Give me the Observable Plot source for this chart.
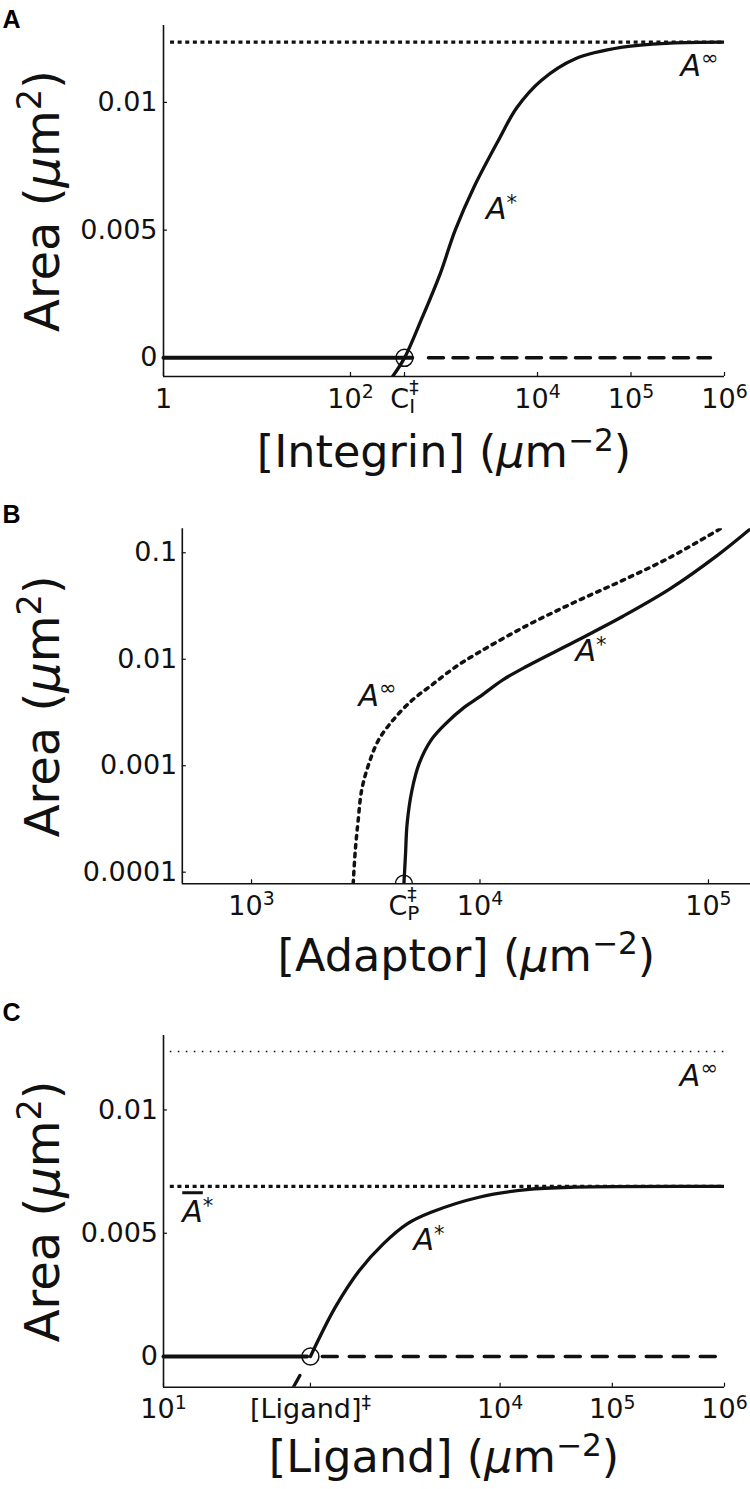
<!DOCTYPE html>
<html><head><meta charset="utf-8">
<script src="https://cdn.jsdelivr.net/npm/d3@7"></script>
<script src="https://cdn.jsdelivr.net/npm/@observablehq/plot@0.6"></script>
<style>
body{margin:0;background:#fff;}
#chart{width:750px;}
#chart svg{display:block;}
</style></head><body><div id="chart"></div>
<script>
// ---------- Panel A : Integrin ----------
const aXTicks = [1, 1e2, 378, 1e4, 1e5, 1e6];
const aXTickLabels = ["1", "10^{2}", "C_{I}^{‡}", "10^{4}", "10^{5}", "10^{6}"];
const aYTicks = [0, 0.005, 0.01];
const aYTickLabels = ["0", "0.005", "0.01"];
const aCrit = 378;
const aAinf = 0.01236;
const aStarConc = [282, 378, 562, 912, 1318, 2089, 3802, 6026, 10965, 25119, 81283, 263027, 1e6];
const aStarArea = [-0.00073, 0, 0.00143, 0.0033, 0.005, 0.00668, 0.0085, 0.0098, 0.01086, 0.0117, 0.01216, 0.01232, 0.01236];
const aZeroSolidConc = [1, 457];
const aZeroDashConc = [682, 708000];
const aLabelText = ["A^{∞}", "A^{*}"];
const aLabelConc = [338000, 2818];
const aLabelArea = [0.011045, 0.005438];

// ---------- Panel B : Adaptor ----------
const bXTicks = [1e3, 4645, 1e4, 1e5];
const bXTickLabels = ["10^{3}", "C_{P}^{‡}", "10^{4}", "10^{5}"];
const bYTicks = [1e-4, 1e-3, 1e-2, 1e-1];
const bYTickLabels = ["0.0001", "0.001", "0.01", "0.1"];
const bCrit = 4645;
const bInfConc = [2786, 2831, 2871, 2924, 3034, 3266, 3597, 4150, 5012, 6109, 7780, 9908, 16032, 25942, 42073, 68077, 112720];
const bInfArea = [7.78e-5, 1.38e-4, 2.0e-4, 2.95e-4, 5.89e-4, 1.05e-3, 1.74e-3, 2.66e-3, 4.07e-3, 5.66e-3, 8.41e-3, 1.164e-2, 2.07e-2, 3.43e-2, 5.50e-2, 9.08e-2, 0.168];
const bStarConc = [4645, 4721, 4797, 5035, 5420, 6109, 7063, 8551, 9908, 12589, 16032, 25942, 42073, 68077, 110154, 152757];
const bStarArea = [7.78e-5, 1.48e-4, 2.85e-4, 5.85e-4, 1.05e-3, 1.74e-3, 2.47e-3, 3.55e-3, 4.40e-3, 6.40e-3, 8.60e-3, 1.46e-2, 2.52e-2, 4.60e-2, 9.55e-2, 0.168];
const bLabelText = ["A^{∞}", "A^{*}"];
const bLabelConc = [2938, 26182];
const bLabelArea = [3.67e-3, 9.73e-3];

// ---------- Panel C : Ligand ----------
const cXTicks = [10, 204, 1e4, 1e5, 1e6];
const cXTickLabels = ["10^{1}", "[Ligand]^{‡}", "10^{4}", "10^{5}", "10^{6}"];
const cYTicks = [0, 0.005, 0.01];
const cYTickLabels = ["0", "0.005", "0.01"];
const cCrit = 204;
const cAinf = 0.01237;
const cAbar = 0.0069;
const cStarConc = [204, 340, 557, 910, 1486, 2427, 6486, 17298, 46238, 1e6];
const cStarArea = [0, 0.0020, 0.00349, 0.00457, 0.00538, 0.00585, 0.00646, 0.00677, 0.00687, 0.0069];
const cStarBelowConc = [143.5, 204];
const cStarBelowArea = [-0.00125, 0];
const cZeroSolidConc = [10, 190.5];
const cZeroDashConc = [260, 977000];
const cLabelText = ["A^{∞}", "={A}^{*}", "A^{*}"];
const cLabelConc = [400000, 14.7, 1690];
const cLabelArea = [0.01099, 0.005446, 0.0043];

const INK = "#111";
const FONT = "DejaVu Sans";
const pts = (xs, ys) => xs.map((x, i) => ({x, y: ys[i]}));
const labels = (t, xs, ys) => t.map((s, i) => ({t: s, x: xs[i], y: ys[i]}));

const measureCtx = document.createElement("canvas").getContext("2d");
function textWidth(str, size) {
  measureCtx.font = `${size}px "${FONT}"`;
  return measureCtx.measureText(str).width;
}

function parseMarkup(s) {
  const out = []; let i = 0, buf = "";
  const map = {"^": "sup", "_": "sub", "~": "it", "=": "over"};
  while (i < s.length) {
    const c = s[i];
    if (map[c] && s[i + 1] === "{") {
      if (buf) { out.push({type: "plain", text: buf}); buf = ""; }
      const j = s.indexOf("}", i + 2);
      out.push({type: map[c], text: s.slice(i + 2, j)});
      i = j + 1;
    } else { buf += c; i++; }
  }
  if (buf) out.push({type: "plain", text: buf});
  return out;
}

function richify(svg) {
  const ns = "http://www.w3.org/2000/svg";
  for (const t of svg.querySelectorAll("text")) {
    const s = t.textContent;
    if (!/[\^_~=]\{/.test(s)) continue;
    const fs = parseFloat(getComputedStyle(t).fontSize) || 27;
    const toks = parseMarkup(s);
    while (t.firstChild) t.removeChild(t.firstChild);
    let shift = 0, prev = null;
    for (const tok of toks) {
      const ts = document.createElementNS(ns, "tspan");
      let target = 0;
      if (tok.type === "sup") {
        let k = tok.text === "*" ? 0.3 : 0.36;
        if (prev && prev.type === "sub") k = 0.5;
        target = -k * fs;
        ts.setAttribute("font-size", (0.7 * fs).toFixed(2));
        if (prev && prev.type === "sub") {
          const w = textWidth(prev.text, 0.74 * fs);
          if (isFinite(w) && w > 0 && w < fs) ts.setAttribute("dx", (-w).toFixed(2));
        }
      } else if (tok.type === "sub") {
        target = 0.2 * fs;
        ts.setAttribute("font-size", (0.74 * fs).toFixed(2));
      }
      const d = target - shift;
      if (Math.abs(d) > 1e-6) ts.setAttribute("dy", d.toFixed(2));
      shift = target;
      if (tok.type === "it") ts.setAttribute("font-style", "italic");
      if (tok.type === "over") ts.setAttribute("text-decoration", "overline");
      ts.textContent = tok.text;
      t.appendChild(ts);
      prev = tok;
    }
  }
}

function panel(cfg) {
  const {height, mt, mb, ml, mr, xType, yType, xDomain, yDomain, xTicks, xTickLabels,
         yTicks, yTickLabels, yPad, marks, xTitle, xTitleDy, letter, letterDx, letterDy} = cfg;
  const width = 750;
  const plotH = height - mt - mb, plotW = width - ml - mr;
  return Plot.plot({
    width, height, marginTop: mt, marginBottom: mb, marginLeft: ml, marginRight: mr,
    style: {fontFamily: FONT, background: "white", overflow: "visible", color: INK},
    x: {type: xType, domain: xDomain, axis: null},
    y: {type: yType, domain: yDomain, axis: null},
    marks: [
      ...marks,
      // inward ticks
      Plot.ruleX(xTicks, {stroke: INK, strokeWidth: 1.2, insetTop: plotH - 4}),
      Plot.ruleY(yTicks, {stroke: INK, strokeWidth: 1.2, insetRight: plotW - 4}),
      // spines
      Plot.ruleX([xDomain[0]], {stroke: INK, strokeWidth: 1.6}),
      Plot.ruleY([yDomain[0]], {stroke: INK, strokeWidth: 1.6}),
      // tick labels
      Plot.text(xTicks, {x: d => d, text: (d, i) => xTickLabels[i], frameAnchor: "bottom", textAnchor: "middle", lineAnchor: "top", dy: 12, fontSize: 27, fill: INK}),
      Plot.text(yTicks, {y: d => d, text: (d, i) => yTickLabels[i], frameAnchor: "left", textAnchor: "end", lineAnchor: "middle", dx: -yPad, fontSize: 27, fill: INK}),
      // axis titles
      Plot.text([xTitle], {text: d => d, frameAnchor: "bottom", textAnchor: "middle", dy: xTitleDy, lineAnchor: "bottom", fontSize: 44.5, fill: INK}),
      Plot.text(["Area (~{μ}m^{2})"], {text: d => d, frameAnchor: "left", textAnchor: "middle", rotate: -90, dx: 58 - ml, lineAnchor: "bottom", fontSize: 48, fill: INK}),
      // panel letter
      Plot.text([letter], {text: d => d, frameAnchor: "top-left", dx: letterDx, dy: letterDy, textAnchor: "start", lineAnchor: "bottom", fontSize: 25, fontWeight: "bold", fontFamily: "Liberation Sans", fill: "#000"})
    ]
  });
}

const curveLabels = (data) => Plot.text(data, {x: "x", y: "y", text: "t", textAnchor: "start", lineAnchor: "bottom", fontSize: 30, fontStyle: "italic", fill: INK});

const svgA = panel({
  height: 490, mt: 25, mb: 114, ml: 163, mr: 26,
  xType: "log", yType: "linear", xDomain: [1, 1e6], yDomain: [-0.00073, 0.01301],
  xTicks: aXTicks, xTickLabels: aXTickLabels, yTicks: aYTicks, yTickLabels: aYTickLabels, yPad: 6,
  xTitle: "[Integrin] (~{μ}m^{−2})", xTitleDy: 90.7, letter: "A", letterDx: -161, letterDy: 2,
  marks: [
    Plot.ruleY([aAinf], {x1: 1.19, x2: 1e6, stroke: INK, strokeWidth: 3.3, strokeDasharray: "4,3.6"}),
    Plot.line(pts(aZeroSolidConc, [0, 0]), {x: "x", y: "y", stroke: INK, strokeWidth: 4}),
    Plot.line(pts(aZeroDashConc, [0, 0]), {x: "x", y: "y", stroke: INK, strokeWidth: 3.5, strokeDasharray: "15,9.5"}),
    Plot.line(pts(aStarConc, aStarArea), {x: "x", y: "y", stroke: INK, strokeWidth: 3.3, curve: "catmull-rom", clip: true}),
    Plot.dot([{x: aCrit, y: 0}], {x: "x", y: "y", r: 8.5, stroke: INK, strokeWidth: 1.5, fill: "none"}),
    curveLabels(labels(aLabelText, aLabelConc, aLabelArea))
  ]
});

const svgB = panel({
  height: 500, mt: 38.3, mb: 106.7, ml: 181.8, mr: 0,
  xType: "log", yType: "log", xDomain: [Math.pow(10, 2.697), Math.pow(10, 5.184)], yDomain: [Math.pow(10, -4.109), Math.pow(10, -0.775)],
  xTicks: bXTicks, xTickLabels: bXTickLabels, yTicks: bYTicks, yTickLabels: bYTickLabels, yPad: 5,
  xTitle: "[Adaptor] (~{μ}m^{−2})", xTitleDy: 86.7, letter: "B", letterDx: -179.8, letterDy: -6.3,
  marks: [
    Plot.line(pts(bInfConc, bInfArea), {x: "x", y: "y", stroke: INK, strokeWidth: 3.5, strokeDasharray: "3.5,5.5", curve: "catmull-rom", clip: true}),
    Plot.line(pts(bStarConc, bStarArea), {x: "x", y: "y", stroke: INK, strokeWidth: 3.3, curve: "catmull-rom", clip: true}),
    Plot.dot([{x: bCrit, y: Math.pow(10, -4.109)}], {x: "x", y: "y", r: 8.5, stroke: INK, strokeWidth: 1.5, fill: "none", clip: true}),
    curveLabels(labels(bLabelText, bLabelConc, bLabelArea))
  ]
});

const svgC = panel({
  height: 499, mt: 45, mb: 102.3, ml: 163, mr: 26,
  xType: "log", yType: "linear", xDomain: [10, 1e6], yDomain: [-0.001245, 0.01302],
  xTicks: cXTicks, xTickLabels: cXTickLabels, yTicks: cYTicks, yTickLabels: cYTickLabels, yPad: 5.5,
  xTitle: "[Ligand] (~{μ}m^{−2})", xTitleDy: 85, letter: "C", letterDx: -161, letterDy: -15,
  marks: [
    Plot.ruleY([cAinf], {x1: 11.5, x2: 1e6, stroke: INK, strokeWidth: 1.6, strokeDasharray: "1.6,6.4"}),
    Plot.ruleY([cAbar], {x1: 11.5, x2: 1e6, stroke: INK, strokeWidth: 3.3, strokeDasharray: "4,3.6"}),
    Plot.line(pts(cZeroSolidConc, [0, 0]), {x: "x", y: "y", stroke: INK, strokeWidth: 4}),
    Plot.line(pts(cZeroDashConc, [0, 0]), {x: "x", y: "y", stroke: INK, strokeWidth: 3.5, strokeDasharray: "15,12"}),
    Plot.line(pts(cStarBelowConc, cStarBelowArea), {x: "x", y: "y", stroke: INK, strokeWidth: 3.3, strokeDasharray: "13.5,40", clip: true}),
    Plot.line(pts(cStarConc, cStarArea), {x: "x", y: "y", stroke: INK, strokeWidth: 3.3, curve: "catmull-rom", clip: true}),
    Plot.dot([{x: cCrit, y: 0}], {x: "x", y: "y", r: 8.5, stroke: INK, strokeWidth: 1.5, fill: "none"}),
    curveLabels(labels(cLabelText, cLabelConc, cLabelArea))
  ]
});

const root = document.getElementById("chart");
for (const s of [svgA, svgB, svgC]) { root.appendChild(s); richify(s); }
</script>
</body></html>
